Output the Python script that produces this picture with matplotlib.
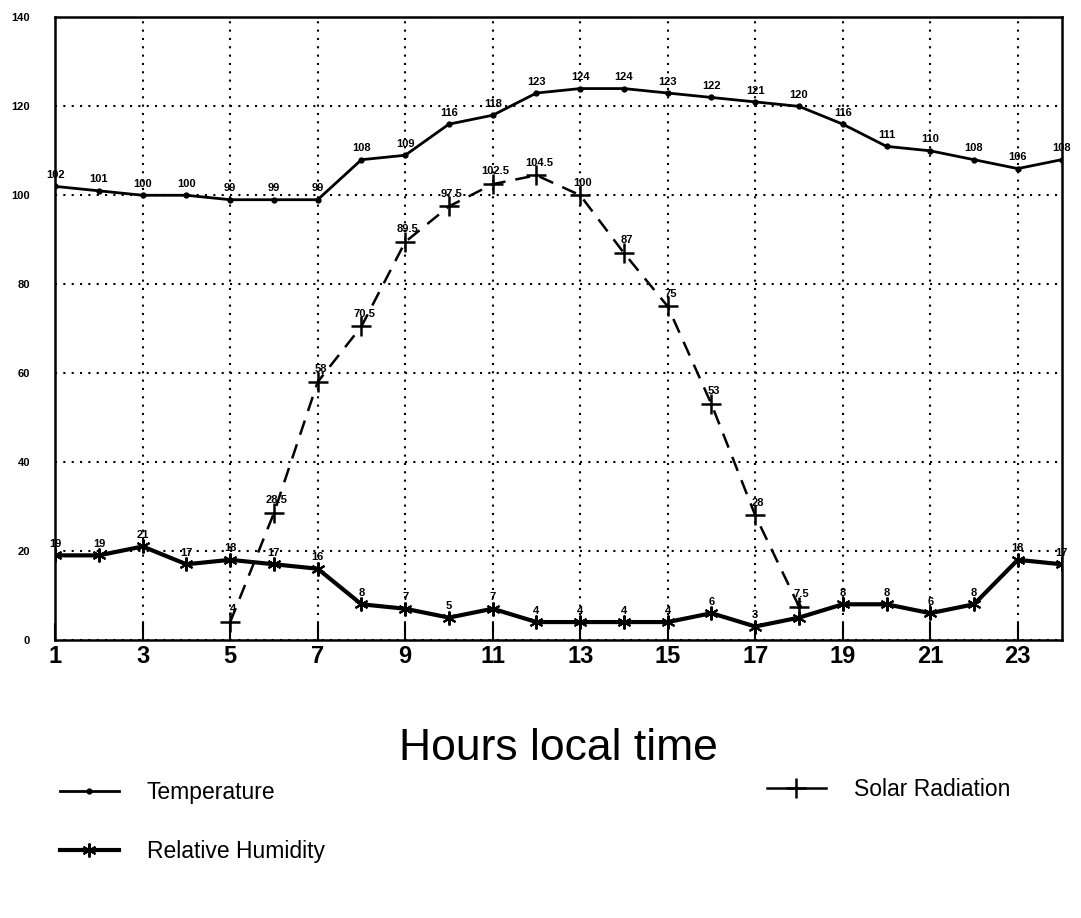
import matplotlib.pyplot as plt
from matplotlib.lines import Line2D

plt.rcParams['font.family'] = ['Liberation Sans', 'DejaVu Sans']

hours = list(range(1, 25))
temperature = [102, 101, 100, 100, 99, 99, 99, 108, 109, 116, 118, 123,
               124, 124, 123, 122, 121, 120, 116, 111, 110, 108, 106, 108]
humidity = [19, 19, 21, 17, 18, 17, 16, 8, 7, 5, 7, 4,
            4, 4, 4, 6, 3, 5, 8, 8, 6, 8, 18, 17]
solar_hours = list(range(5, 19))
solar = [4, 28.5, 58, 70.5, 89.5, 97.5, 102.5, 104.5, 100, 87, 75, 53, 28, 7.5]

xticks = list(range(1, 24, 2))
yticks = list(range(0, 141, 20))

fig = plt.figure(figsize=(10.81, 9.18), dpi=100)
ax = fig.add_axes([0.051, 0.303, 0.931, 0.678])

ax.plot(hours, temperature, color='black', lw=2, marker='o', ms=3.5)
ax.plot(hours, humidity, color='black', lw=3, marker=(6, 2, 0), ms=10, mew=1.5)
ax.plot(solar_hours, solar, color='black', lw=1.8, ls=(0, (6, 4)),
        marker='+', ms=14, mew=1.8)

for h, v in zip(hours, temperature):
    ax.annotate(f'{v:g}', (h, v), xytext=(0, 6), textcoords='offset points',
                ha='center', fontsize=8, fontweight='bold')
for h, v in zip(hours, humidity):
    ax.annotate(f'{v:g}', (h, v), xytext=(0, 6), textcoords='offset points',
                ha='center', fontsize=8, fontweight='bold')
for h, v in zip(solar_hours, solar):
    ax.annotate(f'{v:g}', (h, v), xytext=(2, 7), textcoords='offset points',
                ha='center', fontsize=8, fontweight='bold')

ax.set_xlim(1, 24)
ax.set_ylim(0, 140)
ax.set_xticks(xticks)
ax.set_yticks(yticks)
ax.tick_params(axis='x', direction='in', length=12, width=1.5, labelsize=17, pad=4)
ax.tick_params(axis='y', length=0, labelsize=8, pad=18)
for lab in ax.get_xticklabels() + ax.get_yticklabels():
    lab.set_fontweight('bold')
ax.grid(True, ls=(0, (1, 3)), color='black', lw=1.5)
for s in ax.spines.values():
    s.set_linewidth(1.8)

ax.set_xlabel('Hours local time', fontsize=32, labelpad=43)

handles = [
    Line2D([], [], color='black', lw=2, marker='o', ms=3.5),
    Line2D([], [], color='black', lw=3, marker=(6, 2, 0), ms=10, mew=1.5),
    Line2D([], [], color='black', lw=1.8, marker='+', ms=14, mew=1.8),
]
fig.legend(handles[:2], ['Temperature', 'Relative Humidity'],
           loc='upper left', bbox_to_anchor=(0.036, 0.172), frameon=False,
           fontsize=16.5, handlelength=2.6, labelspacing=1.6, handletextpad=1.2)
fig.legend(handles[2:], ['Solar Radiation'],
           loc='upper left', bbox_to_anchor=(0.69, 0.175), frameon=False,
           fontsize=16.5, handlelength=2.6, handletextpad=1.2)

fig.savefig('out.png', dpi=100)
